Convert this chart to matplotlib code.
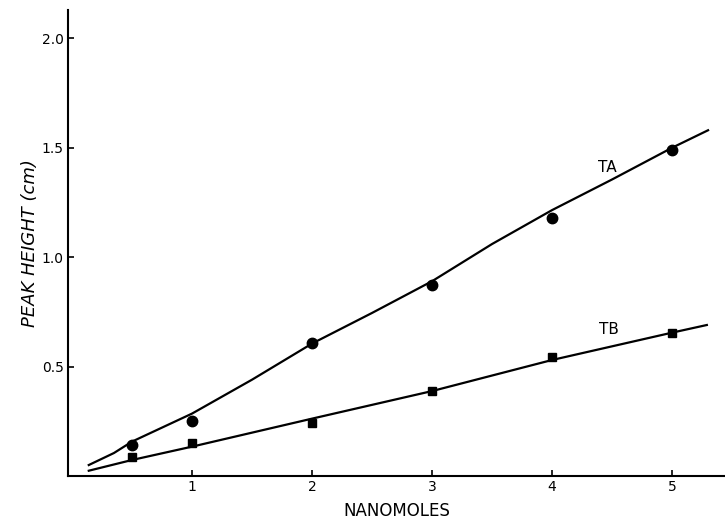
import numpy as np
import matplotlib
matplotlib.use("Agg")
import matplotlib.pyplot as plt

# ==============================
# DATA
# ==============================
nanomoles = [0.5, 1, 2, 3, 4, 5]
ta_height = [0.14, 0.25, 0.607, 0.874, 1.18, 1.49]
tb_height = [0.087, 0.15, 0.244, 0.39, 0.543, 0.653]

# hand-drawn calibration lines
ta_line_x = [0.14, 0.35, 0.5, 1.0, 1.5, 2.0, 2.5, 3.0, 3.5, 4.0, 4.5, 5.0, 5.30]
ta_line_y = [0.05, 0.105, 0.157, 0.285, 0.44, 0.605, 0.745, 0.89, 1.06, 1.215, 1.355, 1.50, 1.58]
tb_line_x = [0.14, 0.5, 1.0, 2.0, 3.0, 4.0, 5.0, 5.29]
tb_line_y = [0.024, 0.073, 0.134, 0.262, 0.388, 0.53, 0.655, 0.69]

x_ticks = [1, 2, 3, 4, 5]
y_ticks = [0.5, 1.0, 1.5, 2.0]
y_tick_labels = ["0.5", "1.0", "1.5", "2.0"]

# ==============================
# PLOT
# ==============================
fig = plt.figure(figsize=(7.25, 5.19), dpi=100)
ax = fig.add_axes([0.0938, 0.0829, 0.906, 0.898])

ax.plot(ta_line_x, ta_line_y, color="black", linewidth=1.6)
ax.plot(tb_line_x, tb_line_y, color="black", linewidth=1.6)
ax.plot(nanomoles, ta_height, "o", color="black", markersize=7.5)
ax.plot(nanomoles, tb_height, "s", color="black", markersize=6)

ax.text(4.46, 1.41, "TA", fontsize=11, ha="center", va="center")
ax.text(4.47, 0.668, "TB", fontsize=11, ha="center", va="center")

ax.set_xlim(-0.033, 5.44)
ax.set_ylim(0, 2.13)
ax.set_xticks(x_ticks)
ax.set_yticks(y_ticks)
ax.set_yticklabels(y_tick_labels)
ax.tick_params(direction="in", length=4, width=1.2, labelsize=10, pad=3)

for side in ("top", "right"):
    ax.spines[side].set_visible(False)
for side in ("left", "bottom"):
    ax.spines[side].set_linewidth(1.5)

ax.set_xlabel("NANOMOLES", fontsize=12, labelpad=6)
ax.set_ylabel("PEAK HEIGHT (cm)", fontsize=13, style="italic", labelpad=2)

fig.savefig("out.png", dpi=100)
